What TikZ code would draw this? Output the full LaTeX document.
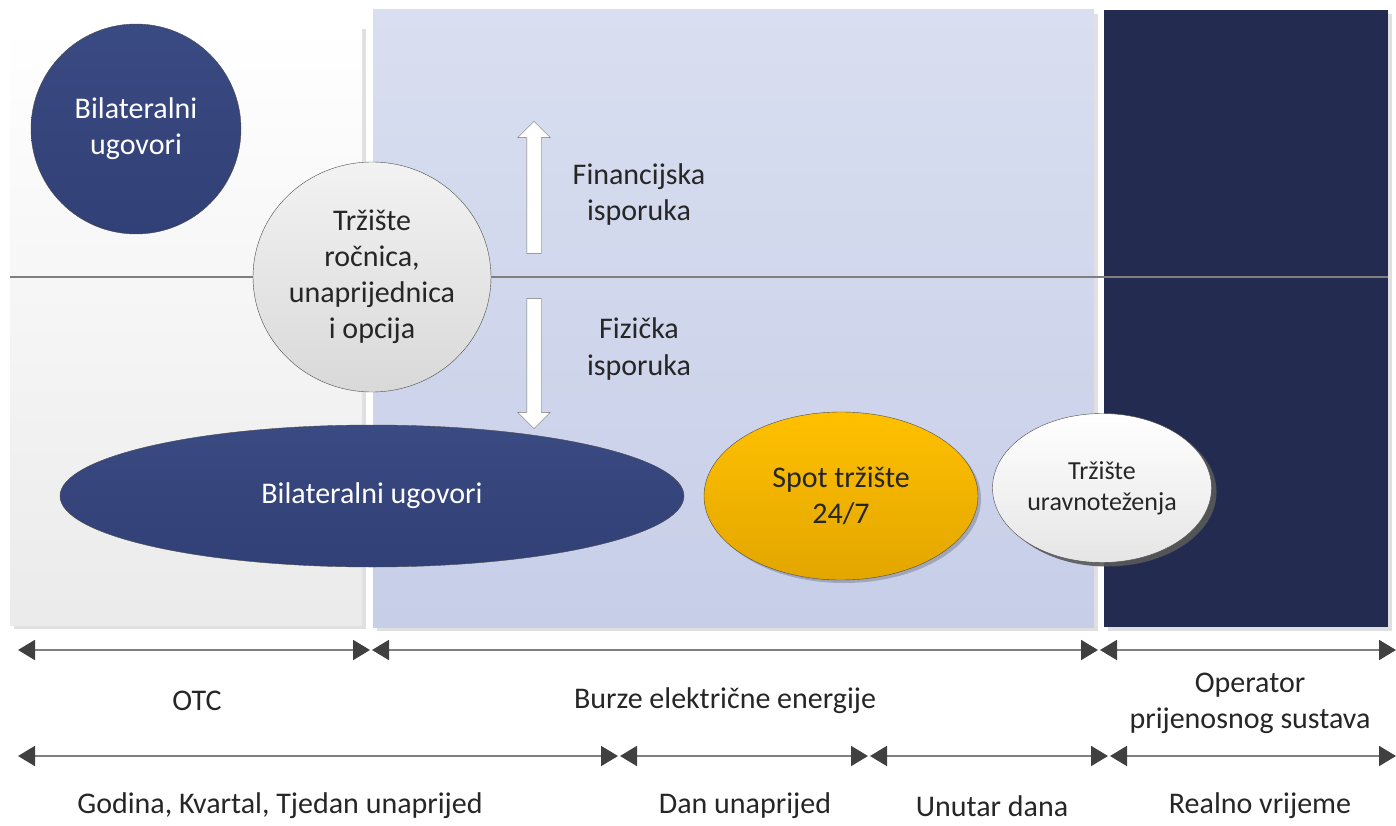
\documentclass[tikz,border=0pt]{standalone}
\usepackage{fontspec}
\setmainfont{Carlito}
\usetikzlibrary{arrows.meta,shapes.geometric,shapes.arrows,shadows,positioning}
\definecolor{navyfill}{HTML}{3A4A82}
\definecolor{navydark}{HTML}{314076}
\definecolor{darkpanel}{HTML}{232C50}
\definecolor{txtgray}{HTML}{262626}
\definecolor{linegray}{HTML}{7F7F7F}
\definecolor{tipgray}{HTML}{404040}
\definecolor{spottop}{HTML}{FFC000}
\definecolor{spotbot}{HTML}{E3A600}

\begin{document}
\begin{tikzpicture}[x=1pt,y=-1pt,
    lbl/.style={text=txtgray, align=center, font=\fontsize{30}{36}\selectfont},
    market/.style={ellipse, draw=black!70, thin, inner sep=0pt, align=center, font=\fontsize{30}{36}\selectfont},
    delivery/.style={single arrow, draw=black!55, fill=white, minimum height=132pt, inner sep=7pt,
        single arrow head extend=9pt, single arrow tip angle=90},
    span/.style={draw=linegray, line width=2pt, {Triangle[length=17pt,width=20pt,color=tipgray]}-{Triangle[length=17pt,width=20pt,color=tipgray]}},
    paneshadow/.style={drop shadow={shadow xshift=4pt,shadow yshift=-4pt,fill=black,opacity=0.12}}]
    \useasboundingbox (0,0) rectangle (1396,826);

    % background panels
    \shade[top color=white, bottom color=black!8, paneshadow] (10,25) rectangle (362,625);
    \shade[top color={rgb,255:red,217;green,223;blue,240}, bottom color={rgb,255:red,199;green,206;blue,232}, paneshadow] (373,10) rectangle (1094,627);
    \fill[darkpanel, paneshadow] (1104,10) rectangle (1388,627);

    % financial / physical divide
    \coordinate (divl) at (10,277);
    \coordinate (divr) at (1388,277);
    \draw[linegray, line width=1.3pt] (divl) -- (divr);

    % markets
    \node[market, circle, minimum size=210pt, top color=navyfill, bottom color=navydark, text=white] (bilat1) at (136,129) {Bilateralni\\ugovori};
    \node[market, minimum width=238pt, minimum height=230pt, top color=black!5, bottom color=black!15, text=txtgray] (rocnica) at (372,277) {Tržište\\ročnica,\\unaprijednica\\i opcija};
    \node[market, minimum width=624pt, minimum height=142pt, top color=navyfill, bottom color=navydark, text=white] (bilat2) at (372,496) {Bilateralni ugovori};
    \node[market, minimum width=274pt, minimum height=168pt, top color=spottop, bottom color=spotbot, text=txtgray,
        drop shadow={shadow xshift=3pt,shadow yshift=-3pt,fill=black,opacity=0.2}] (spot) at (841,496) {Spot tržište\\24/7};
    \node[market, minimum width=219pt, minimum height=149pt, top color=white, bottom color=black!10, text=txtgray,
        font=\fontsize{26}{31}\selectfont,
        drop shadow={shadow xshift=5pt,shadow yshift=-4pt,fill=black!65,opacity=0.9}] (uravn) at (1102,488) {Tržište\\uravnoteženja};

    % delivery arrows
    \node[delivery, rotate=90] (finarrow) at (534,191) {};
    \node[delivery, rotate=-90, minimum height=130pt] (fizarrow) at (534,360) {};
    \node[lbl] (finlbl) at (639,195) {Financijska\\isporuka};
    \node[lbl] (fizlbl) at (639,349) {Fizička\\isporuka};

    % time spans, row 1
    \coordinate (a0) at (18,650);
    \coordinate (a1) at (370,650);
    \coordinate (a2) at (372,650);
    \coordinate (a3) at (1098,650);
    \coordinate (a4) at (1100,650);
    \coordinate (a5) at (1396,650);
    \draw[span] (a0) -- (a1);
    \draw[span] (a2) -- (a3);
    \draw[span] (a4) -- (a5);
    \node[lbl] (otc) at (197,701) {OTC};
    \node[lbl] (burze) at (725,701) {Burze električne energije};
    \node[lbl] (operator) at (1250,703) {Operator\\prijenosnog sustava};

    % time spans, row 2
    \coordinate (b0) at (18,756);
    \coordinate (b1) at (618,756);
    \coordinate (b2) at (620,756);
    \coordinate (b3) at (868,756);
    \coordinate (b4) at (870,756);
    \coordinate (b5) at (1108,756);
    \coordinate (b6) at (1110,756);
    \coordinate (b7) at (1396,756);
    \draw[span] (b0) -- (b1);
    \draw[span] (b2) -- (b3);
    \draw[span] (b4) -- (b5);
    \draw[span] (b6) -- (b7);
    \node[lbl] (godina) at (280,806) {Godina, Kvartal, Tjedan unaprijed};
    \node[lbl] (dan) at (745,806) {Dan unaprijed};
    \node[lbl] (unutar) at (992,806) {Unutar dana};
    \node[lbl] (realno) at (1260,806) {Realno vrijeme};
\end{tikzpicture}
\end{document}
